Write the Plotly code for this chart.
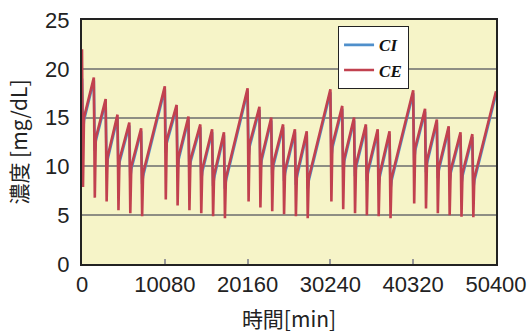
import plotly.graph_objects as go

# Session start times [min]
session_t = [0, 1440, 2880, 4320, 5760, 7200,
             10080, 11520, 12960, 14400, 15840, 17280,
             20160, 21600, 23040, 24480, 25920, 27360,
             30240, 31680, 33120, 34560, 36000, 37440,
             40320, 41760, 43200, 44640, 46080, 47520]

# CE: pre-session peak, in-session minimum, post-session rebound [mg/dL]
ce_peak = [22.0, 19.1, 16.9, 15.3, 14.5, 13.9,
           18.2, 16.3, 15.1, 14.3, 13.8, 13.5,
           18.0, 16.1, 15.0, 14.3, 13.8, 13.6,
           17.9, 16.2, 15.0, 14.3, 13.8, 13.6,
           17.8, 15.9, 14.8, 14.1, 13.5, 13.3]
ce_min = [7.9, 6.8, 6.4, 5.5, 5.2, 4.9,
          6.6, 6.0, 5.5, 5.2, 4.9, 4.7,
          6.4, 5.8, 5.4, 5.1, 4.9, 4.7,
          6.4, 5.6, 5.2, 5.0, 4.9, 4.7,
          6.2, 5.7, 5.2, 5.0, 4.85, 4.8]
ce_reb = [15.0, 12.9, 11.0, 10.7, 10.0, 9.3,
          12.7, 11.0, 10.7, 9.7, 9.1, 8.8,
          12.3, 10.8, 10.3, 9.6, 9.2, 8.8,
          12.2, 10.8, 10.2, 9.6, 9.2, 8.8,
          11.9, 10.6, 9.9, 9.6, 9.3, 8.8]

# CI: pre-session peak, in-session minimum, post-session value [mg/dL]
ci_peak = [19.0, 18.8, 16.6, 15.0, 14.2, 13.6,
           17.9, 16.0, 14.8, 14.0, 13.5, 13.2,
           17.7, 15.8, 14.7, 14.0, 13.5, 13.3,
           17.6, 15.9, 14.7, 14.0, 13.5, 13.3,
           17.5, 15.6, 14.5, 13.8, 13.2, 13.0]
ci_min = [13.2, 11.6, 9.8, 9.5, 8.8, 8.2,
          11.4, 9.8, 9.5, 8.6, 8.0, 7.7,
          11.0, 9.6, 9.1, 8.5, 8.1, 7.7,
          10.9, 9.6, 9.0, 8.5, 8.1, 7.7,
          10.6, 9.4, 8.8, 8.5, 8.2, 7.7]
ci_reb = [14.7, 12.6, 10.7, 10.4, 9.7, 9.0,
          12.4, 10.7, 10.4, 9.4, 8.8, 8.5,
          12.0, 10.5, 10.0, 9.3, 8.9, 8.5,
          11.9, 10.5, 9.9, 9.3, 8.9, 8.5,
          11.6, 10.3, 9.6, 9.3, 9.0, 8.5]

end_t = 50400
ce_end = 17.7
ci_end = 17.4

x_ticks = [0, 10080, 20160, 30240, 40320, 50400]
y_ticks = [0, 5, 10, 15, 20, 25]


def build(peaks, mins, rebs, end_val):
    xs, ys = [], []
    for t, p, m, r in zip(session_t, peaks, mins, rebs):
        xs += [t, t + 120, t + 240]
        ys += [p, m, r]
    xs.append(end_t)
    ys.append(end_val)
    return xs, ys


ci_x, ci_y = build(ci_peak, ci_min, ci_reb, ci_end)
ce_x, ce_y = build(ce_peak, ce_min, ce_reb, ce_end)

fig = go.Figure()
fig.add_trace(go.Scatter(x=ci_x, y=ci_y, mode="lines", name="<b><i>CI</i></b>",
                         line=dict(color="#4f8fcb", width=2.6)))
fig.add_trace(go.Scatter(x=ce_x, y=ce_y, mode="lines", name="<b><i>CE</i></b>",
                         line=dict(color="#c1414f", width=2.6)))

fig.update_layout(
    width=530, height=335,
    margin=dict(l=82, r=34, t=20, b=71),
    paper_bgcolor="white",
    plot_bgcolor="#f6f4c8",
    font=dict(family="Arial, Liberation Sans, Noto Sans CJK JP", size=22, color="#222"),
    showlegend=True,
    legend=dict(x=0.618, y=0.975, xanchor="left", yanchor="top",
                bgcolor="white", bordercolor="#222", borderwidth=1.2,
                font=dict(family="Liberation Serif, Times New Roman, serif", size=17, color="#111"),
                itemwidth=30, tracegroupgap=0),
    xaxis=dict(range=[0, 50400], tickvals=x_ticks, ticktext=[str(v) for v in x_ticks],
               showgrid=False, zeroline=False, showline=True, mirror=True,
               linecolor="#222", linewidth=2, ticks="inside", ticklen=5,
               tickcolor="#999", tickwidth=1.5, automargin=False,
               title=dict(text="時間[min]", standoff=16,
                          font=dict(family="Noto Sans CJK JP, Arial", size=21))),
    yaxis=dict(range=[0, 25], tickvals=y_ticks, showgrid=True, gridcolor="#8e8e84",
               gridwidth=1.5, zeroline=False, showline=True, mirror=True,
               linecolor="#222", linewidth=2, ticks="", ticklabelstandoff=6,
               automargin=False,
               title=dict(text="濃度 [mg/dL]", standoff=12,
                          font=dict(family="Noto Sans CJK JP, Arial", size=21))),
)

fig.write_html("out.html")
